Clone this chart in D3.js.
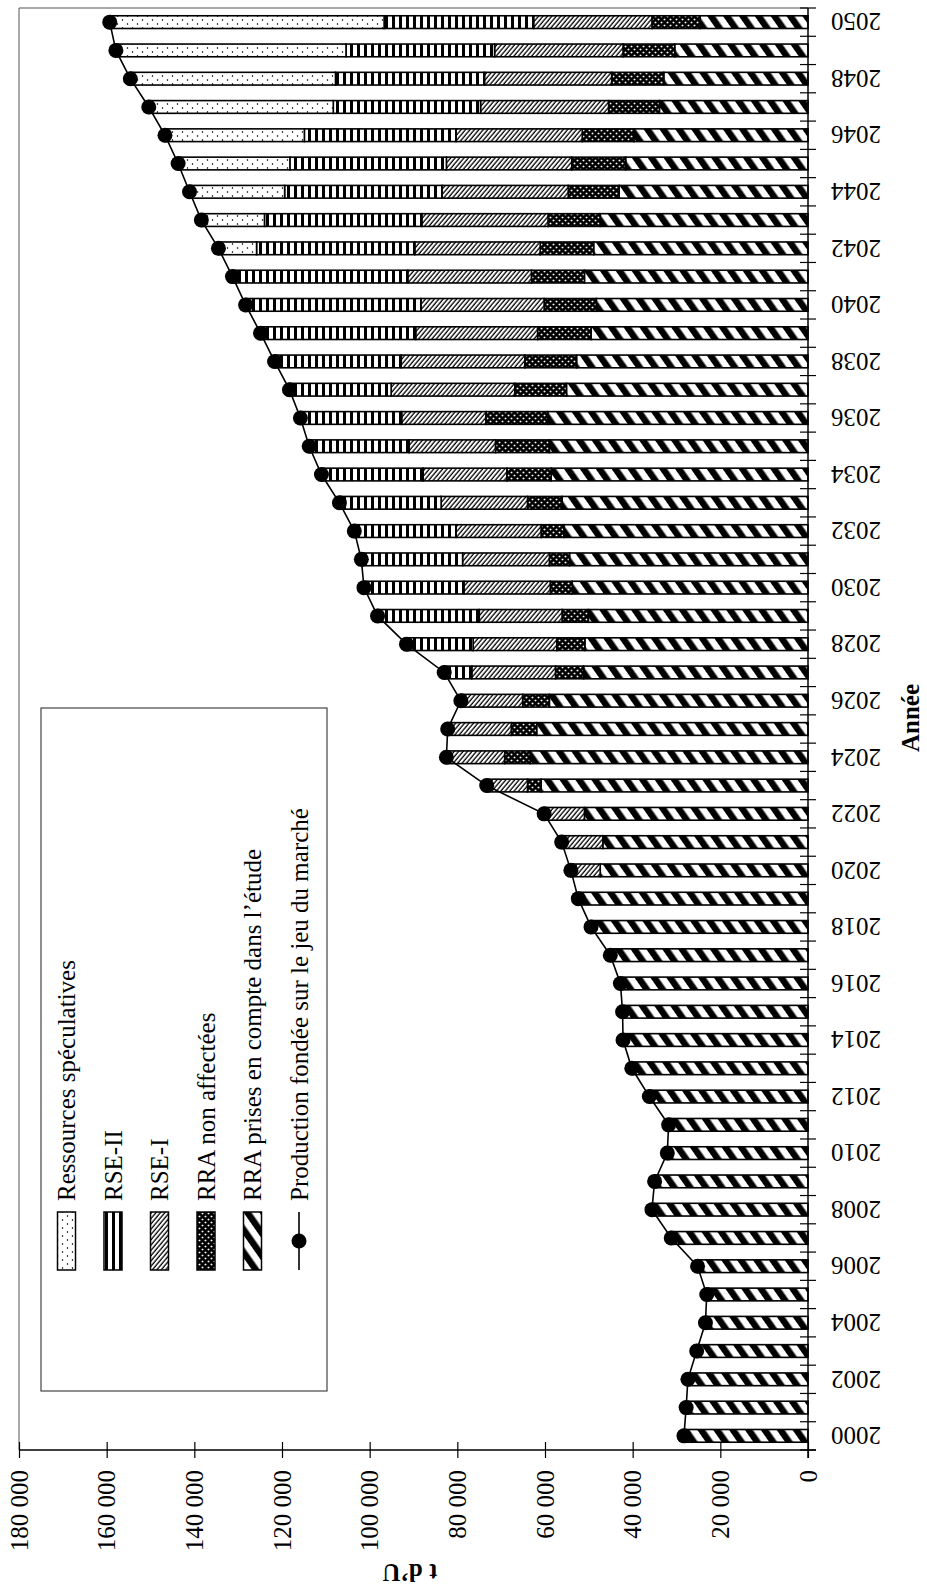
<!DOCTYPE html>
<html>
<head>
<meta charset="utf-8">
<script src="https://cdn.jsdelivr.net/npm/d3@7"></script>
<style>
  body { margin: 0; background: #fff; }
  svg { display: block; }
  text { font-family: "Liberation Serif", "Times New Roman", serif; fill: #000; }
</style>
</head>
<body>
<svg id="chart" width="927" height="1590"></svg>
<script>
// Années
const years = [2000, 2001, 2002, 2003, 2004, 2005, 2006, 2007, 2008, 2009,
  2010, 2011, 2012, 2013, 2014, 2015, 2016, 2017, 2018, 2019,
  2020, 2021, 2022, 2023, 2024, 2025, 2026, 2027, 2028, 2029,
  2030, 2031, 2032, 2033, 2034, 2035, 2036, 2037, 2038, 2039,
  2040, 2041, 2042, 2043, 2044, 2045, 2046, 2047, 2048, 2049, 2050];

// t d'U par catégorie de ressources
const rraPrises = [28300, 27800, 27400, 25400, 23400, 23100, 25200, 31200, 35600, 35000,
  32100, 31800, 36200, 40200, 42200, 42300, 42800, 45100, 49500, 52400,
  47400, 46800, 51000, 60900, 63400, 61900, 59000, 51200, 50900, 50100,
  53800, 54400, 55700, 56100, 58600, 59000, 59400, 55100, 52800, 49500,
  48300, 51000, 48900, 47400, 43100, 41600, 39700, 33900, 32900, 30400, 24600];
const rraNonAffectees = [0, 0, 0, 0, 0, 0, 0, 0, 0, 0,
  0, 0, 0, 0, 0, 0, 0, 0, 0, 0,
  0, 0, 0, 3100, 5800, 5800, 6100, 6400, 6400, 6000,
  5000, 4600, 5200, 7900, 10100, 12300, 14100, 11800, 11800, 12200,
  11900, 12100, 12200, 11900, 11600, 12300, 11800, 11600, 11900, 11800, 11000];
const rseI = [0, 0, 0, 0, 0, 0, 0, 0, 0, 0,
  0, 0, 0, 0, 0, 0, 0, 0, 0, 0,
  6700, 9400, 9200, 9300, 13300, 14500, 14100, 19100, 19100, 18900,
  19700, 19800, 19400, 19700, 19100, 19700, 19200, 28200, 28200, 27800,
  28100, 28200, 28600, 28800, 28800, 28600, 28800, 29200, 29000, 29300, 27000];
const rseII = [0, 0, 0, 0, 0, 0, 0, 0, 0, 0,
  0, 0, 0, 0, 0, 0, 0, 0, 0, 0,
  0, 0, 0, 0, 0, 0, 0, 6300, 15200, 23200,
  22800, 23100, 23200, 23200, 23200, 22800, 23100, 23200, 28900, 35400,
  40000, 40000, 36100, 35900, 35900, 35700, 34600, 33600, 34000, 33900, 34100];
const ressourcesSpeculatives = [0, 0, 0, 0, 0, 0, 0, 0, 0, 0,
  0, 0, 0, 0, 0, 0, 0, 0, 0, 0,
  0, 0, 0, 0, 0, 0, 0, 0, 0, 0,
  0, 0, 0, 0, 0, 0, 0, 0, 0, 0,
  0, 0, 8700, 14400, 21700, 25500, 31800, 42100, 46800, 52500, 62600];
// Production fondée sur le jeu du marché
const production = [28300, 27800, 27400, 25400, 23400, 23100, 25200, 31200, 35600, 35000,
  32100, 31800, 36200, 40200, 42200, 42300, 42800, 45100, 49500, 52400,
  54100, 56200, 60200, 73300, 82500, 82200, 79200, 83000, 91600, 98200,
  101300, 101900, 103500, 106900, 111000, 113800, 115800, 118300, 121700, 124900,
  128300, 131300, 134500, 138400, 141100, 143700, 146700, 150400, 154600, 157900, 159300];

const yearLabels = [2000, 2002, 2004, 2006, 2008, 2010, 2012, 2014, 2016, 2018, 2020,
  2022, 2024, 2026, 2028, 2030, 2032, 2034, 2036, 2038, 2040, 2042, 2044, 2046, 2048, 2050];
const valueTicks = [0, 20000, 40000, 60000, 80000, 100000, 120000, 140000, 160000, 180000];

const seriesKeys = ["rraPrises", "rraNonAffectees", "rseI", "rseII", "ressourcesSpeculatives"];
const seriesData = { rraPrises, rraNonAffectees, rseI, rseII, ressourcesSpeculatives };
const patternOf = {
  rraPrises: "p-rra-prises",
  rraNonAffectees: "p-rra-non",
  rseI: "p-rse1",
  rseII: "p-rse2",
  ressourcesSpeculatives: "p-spec"
};
const legendItems = [
  { label: "Ressources spéculatives", key: "ressourcesSpeculatives" },
  { label: "RSE-II", key: "rseII" },
  { label: "RSE-I", key: "rseI" },
  { label: "RRA non affectées", key: "rraNonAffectees" },
  { label: "RRA prises en compte dans l\u2019étude", key: "rraPrises" },
  { label: "Production fondée sur le jeu du marché", key: null }
];

const svg = d3.select("#chart");
const defs = svg.append("defs");

// Fill patterns
function stripePattern(id, period, dark, angle) {
  const p = defs.append("pattern").attr("id", id)
    .attr("patternUnits", "userSpaceOnUse")
    .attr("width", period).attr("height", 10)
    .attr("patternTransform", `rotate(${angle})`);
  p.append("rect").attr("width", period).attr("height", 10).attr("fill", "#fff");
  p.append("rect").attr("width", dark).attr("height", 10).attr("fill", "#000");
}
stripePattern("p-rra-prises", 13, 6.5, 55);
stripePattern("p-rse1", 3.4, 1.3, -50);

const pNon = defs.append("pattern").attr("id", "p-rra-non")
  .attr("patternUnits", "userSpaceOnUse").attr("width", 6).attr("height", 6);
pNon.append("rect").attr("width", 6).attr("height", 6).attr("fill", "#000");
pNon.append("circle").attr("cx", 1.5).attr("cy", 1.5).attr("r", 0.9).attr("fill", "#fff");
pNon.append("circle").attr("cx", 4.5).attr("cy", 4.5).attr("r", 0.9).attr("fill", "#fff");

const pRse2 = defs.append("pattern").attr("id", "p-rse2")
  .attr("patternUnits", "userSpaceOnUse").attr("width", 10).attr("height", 7);
pRse2.append("rect").attr("width", 10).attr("height", 7).attr("fill", "#fff");
pRse2.append("rect").attr("width", 10).attr("height", 3).attr("fill", "#000");

const pSpec = defs.append("pattern").attr("id", "p-spec")
  .attr("patternUnits", "userSpaceOnUse").attr("width", 8).attr("height", 10);
pSpec.append("rect").attr("width", 8).attr("height", 10).attr("fill", "#fff");
pSpec.append("circle").attr("cx", 2).attr("cy", 2.5).attr("r", 0.8).attr("fill", "#000");
pSpec.append("circle").attr("cx", 6).attr("cy", 7.5).attr("r", 0.8).attr("fill", "#000");

// The chart is laid out as a landscape column chart and turned a quarter turn.
const W = 1590, H = 927;
const g = svg.append("g").attr("transform", `translate(0,${W}) rotate(-90)`);

const plot = { left: 140, right: 1582, top: 19, bottom: 808 };

const x = d3.scaleBand().domain(years).range([plot.left, plot.right]).padding(0);
const step = x.step();
const bw = step * 0.45;
const y = d3.scaleLinear().domain([0, 180000]).range([plot.bottom, plot.top]);

// Plot area frame (top and right edges)
g.append("path")
  .attr("d", `M${plot.left},${plot.top}H${plot.right}V${plot.bottom}`)
  .attr("fill", "none").attr("stroke", "#555").attr("stroke-width", 1);

// Stacked columns
const rows = years.map((yr, i) => {
  const r = { year: yr };
  seriesKeys.forEach(k => { r[k] = seriesData[k][i]; });
  return r;
});
const stacked = d3.stack().keys(seriesKeys)(rows);

stacked.forEach(layer => {
  g.append("g")
    .selectAll("rect")
    .data(layer.filter(d => d[1] - d[0] > 0))
    .join("rect")
    .attr("x", d => x(d.data.year) + (step - bw) / 2)
    .attr("width", bw)
    .attr("y", d => y(d[1]))
    .attr("height", d => y(d[0]) - y(d[1]))
    .attr("fill", `url(#${patternOf[layer.key]})`)
    .attr("stroke", "#000")
    .attr("stroke-width", 1.6);
});

// Value axis
const yAxis = g.append("g")
  .attr("transform", `translate(${plot.left},0)`)
  .call(d3.axisLeft(y).tickValues(valueTicks).tickSize(8).tickPadding(12)
    .tickFormat(d => d3.format(",")(d).replace(/,/g, " ")));
yAxis.select(".domain").attr("stroke", "#000").attr("stroke-width", 1.5)
  .attr("d", `M0,${plot.top}V${plot.bottom + 8}`);
yAxis.selectAll(".tick line").attr("x1", -8).attr("x2", 8).attr("stroke", "#000").attr("stroke-width", 1.2);
yAxis.selectAll(".tick text").attr("font-size", 25)
  .attr("font-family", '"Liberation Serif", "Times New Roman", serif');

// Year axis
g.append("line")
  .attr("x1", plot.left - 8).attr("x2", plot.right)
  .attr("y1", plot.bottom).attr("y2", plot.bottom)
  .attr("stroke", "#000").attr("stroke-width", 1.5);
const boundaries = years.map(yr => x(yr)).concat([x(years[years.length - 1]) + step]);
g.append("g").selectAll("line").data(boundaries).join("line")
  .attr("x1", d => d).attr("x2", d => d)
  .attr("y1", plot.bottom - 8).attr("y2", plot.bottom + 8)
  .attr("stroke", "#000").attr("stroke-width", 1.2);

const xAxis = g.append("g")
  .attr("transform", `translate(0,${plot.bottom})`)
  .call(d3.axisBottom(x).tickValues(yearLabels).tickSize(0).tickPadding(0));
xAxis.select(".domain").remove();
xAxis.selectAll(".tick text")
  .attr("font-size", 25)
  .attr("font-family", '"Liberation Serif", "Times New Roman", serif')
  .attr("text-anchor", "end")
  .attr("transform", "translate(0,23) rotate(-90)")
  .attr("x", 0).attr("y", 0).attr("dy", "0.35em");

// Production line with markers
const prodPts = years.map((yr, i) => ({ year: yr, v: production[i] }));
g.append("path")
  .datum(prodPts)
  .attr("d", d3.line().x(d => x(d.year) + step / 2).y(d => y(d.v)))
  .attr("fill", "none").attr("stroke", "#000").attr("stroke-width", 1.6);
g.append("g").selectAll("circle").data(prodPts).join("circle")
  .attr("cx", d => x(d.year) + step / 2)
  .attr("cy", d => y(d.v))
  .attr("r", 7.5)
  .attr("fill", "#000");

// Axis titles
g.append("text")
  .attr("x", 872).attr("y", 910).attr("dy", "0.35em")
  .attr("text-anchor", "middle")
  .attr("font-size", 25).attr("font-weight", "bold")
  .text("Année");
g.append("text")
  .attr("transform", "translate(17,410) rotate(-90)")
  .attr("dy", "0.35em")
  .attr("text-anchor", "middle")
  .attr("font-size", 25).attr("font-weight", "bold")
  .text("t d\u2019U");

// Legend
const lg = g.append("g");
lg.append("rect")
  .attr("x", 199).attr("y", 41).attr("width", 683).attr("height", 286)
  .attr("fill", "#fff").attr("stroke", "#444").attr("stroke-width", 1.2);
legendItems.forEach((it, i) => {
  const cy = 66.5 + i * 46.5;
  if (it.key) {
    lg.append("rect")
      .attr("x", 320).attr("y", cy - 9).attr("width", 58).attr("height", 18)
      .attr("fill", `url(#${patternOf[it.key]})`)
      .attr("stroke", "#000").attr("stroke-width", 1.5);
  } else {
    lg.append("line")
      .attr("x1", 320).attr("x2", 378).attr("y1", cy).attr("y2", cy)
      .attr("stroke", "#000").attr("stroke-width", 1.6);
    lg.append("circle").attr("cx", 349).attr("cy", cy).attr("r", 7.5).attr("fill", "#000");
  }
  lg.append("text")
    .attr("x", 389).attr("y", cy).attr("dy", "0.35em")
    .attr("font-size", 25)
    .text(it.label);
});
</script>
</body>
</html>
